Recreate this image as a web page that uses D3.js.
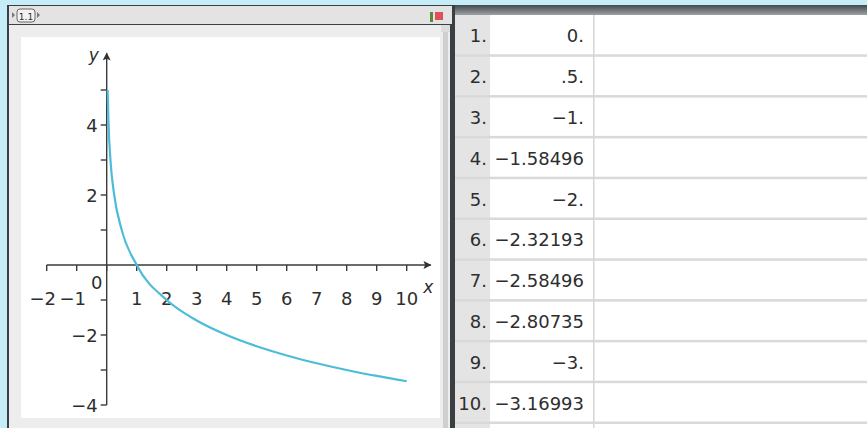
<!DOCTYPE html>
<html>

<head>
    <meta charset="utf-8">
    <title>d3</title>
    <style type="text/css">
    body { margin: 0; background: #c6ecf8; }
    text { font-family: "DejaVu Sans", sans-serif; fill: #2e2e2e; }
    </style>
</head>

<body>
    <script src="https://cdn.jsdelivr.net/npm/d3@7"></script>
    <script>
    // graph points
    var curveX = [0.031, 0.06, 0.125, 0.25, 0.5, 1, 2, 3, 4, 5, 6, 7, 8, 9, 10];
    var curveY = [5, 4.06, 3, 2, 1, 0, -1, -1.585, -2, -2.322, -2.585, -2.807, -3, -3.17, -3.322];

    var xTicks = [-2, -1, 1, 2, 3, 4, 5, 6, 7, 8, 9, 10];
    var xMinor = [-2, -1, 0, 1, 2, 3, 4, 5, 6, 7, 8, 9, 10];
    var yTicks = [-4, -2, 2, 4];
    var yMinor = [-4, -3, -2, -1, 1, 2, 3, 4, 5];

    // table column
    var rowIndex = ["1.", "2.", "3.", "4.", "5.", "6.", "7.", "8.", "9.", "10."];
    var rowValue = ["0.", ".5.", "\u22121.", "\u22121.58496", "\u22122.", "\u22122.32193", "\u22122.58496", "\u22122.80735", "\u22123.", "\u22123.16993"];

    var W = 867, H = 428;
    var svg = d3.select("body").append("svg")
        .attr("width", W)
        .attr("height", H)
        .style("display", "block");

    var defs = svg.append("defs");
    var g1 = defs.append("linearGradient").attr("id", "hdr").attr("x1", 0).attr("y1", 0).attr("x2", 0).attr("y2", 1);
    g1.append("stop").attr("offset", 0).attr("stop-color", "#3e4a50");
    g1.append("stop").attr("offset", 1).attr("stop-color", "#a9a9a9");
    var m = defs.append("marker").attr("id", "arr").attr("viewBox", "0 0 10 10")
        .attr("refX", 9).attr("refY", 5).attr("markerWidth", 9).attr("markerHeight", 8)
        .attr("markerUnits", "userSpaceOnUse").attr("orient", "auto");
    m.append("path").attr("d", "M0,0 L10,5 L0,10 L2,5 Z").attr("fill", "#333");

    // ---------- left panel ----------
    svg.append("rect").attr("x", 7).attr("y", 5).attr("width", 448).attr("height", H - 5).attr("fill", "#3a3f42");
    svg.append("rect").attr("x", 9).attr("y", 6).attr("width", 443).attr("height", 18).attr("fill", "#e3e3e3");
    svg.append("rect").attr("x", 9).attr("y", 25).attr("width", 441).attr("height", H - 25).attr("fill", "#ededed");
    svg.append("rect").attr("x", 21).attr("y", 37).attr("width", 419).attr("height", 381).attr("fill", "#ffffff");
    // scroll strip
    svg.append("rect").attr("x", 443).attr("y", 32).attr("width", 5).attr("height", H - 32).attr("fill", "#cfcfcf");
    svg.append("rect").attr("x", 441).attr("y", 25).attr("width", 9).attr("height", 7).attr("fill", "#dcdcdc");

    // tab "1.1"
    svg.append("rect").attr("x", 17).attr("y", 9).attr("width", 18).attr("height", 13).attr("rx", 3)
        .attr("fill", "#f2f2f2").attr("stroke", "#666");
    svg.append("text").attr("x", 26).attr("y", 19.5).attr("text-anchor", "middle")
        .style("font-size", "9px").text("1.1");
    svg.append("path").attr("d", "M15,15 l-3,-3 v6 Z M37,12 l3,3 l-3,3 Z").attr("fill", "#777");
    // icons right of title bar
    svg.append("rect").attr("x", 430).attr("y", 12).attr("width", 3).attr("height", 10).attr("fill", "#5a8a3a");
    svg.append("rect").attr("x", 435).attr("y", 12).attr("width", 8).attr("height", 8).attr("fill", "#e0505a");

    // scales
    var x = d3.scaleLinear().domain([0, 10]).range([106.7, 406.7]);
    var y = d3.scaleLinear().domain([0, 4]).range([265, 125]);

    var ax = svg.append("g").attr("stroke", "#3a3a3a").attr("stroke-width", 1.4);
    ax.append("line").attr("x1", x(-2)).attr("x2", x(10.8)).attr("y1", y(0)).attr("y2", y(0))
        .attr("marker-end", "url(#arr)");
    ax.append("line").attr("x1", x(0)).attr("x2", x(0)).attr("y1", y(-4)).attr("y2", y(6.05))
        .attr("marker-end", "url(#arr)");
    ax.selectAll(".xt").data(xMinor).enter().append("line")
        .attr("x1", function(d) { return x(d); }).attr("x2", function(d) { return x(d); })
        .attr("y1", y(0)).attr("y2", y(0) + 6);
    ax.selectAll(".yt").data(yMinor).enter().append("line")
        .attr("x1", x(0) - 6).attr("x2", x(0))
        .attr("y1", function(d) { return y(d); }).attr("y2", function(d) { return y(d); });

    svg.selectAll(".xl").data(xTicks).enter().append("text")
        .attr("x", function(d) { return x(d) + (d < 0 ? -4 : 0); })
        .attr("y", y(0) + 40)
        .attr("text-anchor", "middle")
        .style("font-size", "18px")
        .text(function(d) { return d < 0 ? "\u2212" + Math.abs(d) : d; });
    svg.selectAll(".yl").data(yTicks).enter().append("text")
        .attr("x", x(0) - 9)
        .attr("y", function(d) { return y(d) + 7; })
        .attr("text-anchor", "end")
        .style("font-size", "18px")
        .text(function(d) { return d < 0 ? "\u2212" + Math.abs(d) : d; });
    svg.append("text").attr("x", x(0) - 10).attr("y", y(0) + 24).attr("text-anchor", "middle")
        .style("font-size", "18px").text("0");
    svg.append("text").attr("x", x(10.55)).attr("y", y(0) + 28)
        .style("font-size", "17px").style("font-style", "italic").text("x");
    svg.append("text").attr("x", x(0) - 18).attr("y", y(6) + 6)
        .style("font-size", "17px").style("font-style", "italic").text("y");

    var pts = curveX.map(function(d, i) { return [d, curveY[i]]; });
    svg.append("path")
        .attr("d", d3.line().x(function(d) { return x(d[0]); }).y(function(d) { return y(d[1]); })
            .curve(d3.curveMonotoneX)(pts))
        .attr("fill", "none")
        .attr("stroke", "#4dbcd8")
        .attr("stroke-width", 2.2);

    // ---------- right panel (table) ----------
    var tx0 = 455, rowH = 40.8, tableTop = 15;
    svg.append("rect").attr("x", tx0).attr("y", 5).attr("width", W - tx0).attr("height", 11).attr("fill", "url(#hdr)");
    svg.append("rect").attr("x", tx0).attr("y", tableTop).attr("width", W - tx0).attr("height", H - tableTop).attr("fill", "#ffffff");
    svg.append("rect").attr("x", tx0).attr("y", tableTop).attr("width", 35).attr("height", H - tableTop).attr("fill", "#e4e4e4");

    var rowsY = d3.scaleLinear().domain([0, 1]).range([tableTop, tableTop + rowH]);
    svg.selectAll(".rl").data(d3.range(1, rowIndex.length + 1)).enter().append("rect")
        .attr("x", tx0).attr("width", W - tx0)
        .attr("y", function(d) { return rowsY(d) - 1.5; }).attr("height", 2.5)
        .attr("fill", "#d9d9d9");
    svg.append("rect").attr("x", 593).attr("y", tableTop).attr("width", 1.5).attr("height", H - tableTop).attr("fill", "#d6d6d6");

    svg.selectAll(".ri").data(rowIndex).enter().append("text")
        .attr("x", 487)
        .attr("y", function(d, i) { return rowsY(i + 0.5) + 7; })
        .attr("text-anchor", "end")
        .style("font-size", "18px")
        .text(function(d) { return d; });
    svg.selectAll(".rv").data(rowValue).enter().append("text")
        .attr("x", 584)
        .attr("y", function(d, i) { return rowsY(i + 0.5) + 7; })
        .attr("text-anchor", "end")
        .style("font-size", "18px")
        .text(function(d) { return d; });
    </script>
</body>

</html>
